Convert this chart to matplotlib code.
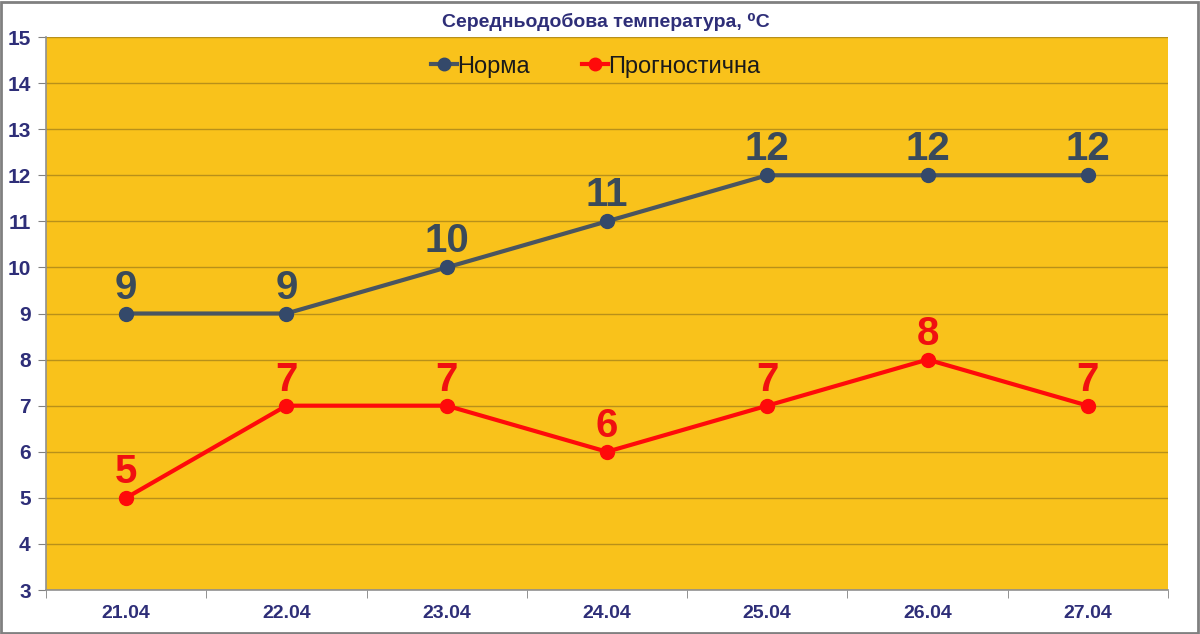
import matplotlib
matplotlib.use("Agg")
import matplotlib.pyplot as plt
from matplotlib.patches import Rectangle

plt.rcParams["font.family"] = ["Liberation Sans", "DejaVu Sans"]

# data
dates = ["21.04", "22.04", "23.04", "24.04", "25.04", "26.04", "27.04"]
norma = [9, 9, 10, 11, 12, 12, 12]
prognoz = [5, 7, 7, 6, 7, 8, 7]

title = "Середньодобова температура, \u2070C"
navy = "#2E2E78"
slate = "#3A4A5A"
red = "#FF0A0A"

fig = plt.figure(figsize=(12, 6.34), dpi=100)
fig.patch.set_facecolor("white")
ax = fig.add_axes([0.0383, 0.0694, 0.9350, 0.8722])
ax.set_facecolor("#F9C21B")

x = list(range(len(dates)))
ax.plot(x, norma, color="#4A5560", linewidth=3, marker="o", markersize=10,
        markerfacecolor="#34496A", markeredgecolor="#34496A", label="Норма", zorder=3)
ax.plot(x, prognoz, color=red, linewidth=3, marker="o", markersize=10,
        markerfacecolor=red, markeredgecolor=red, label="Прогностична", zorder=3)

for xi, v in zip(x, norma):
    ax.annotate(str(v), (xi, v), xytext=(0, 5), textcoords="offset points",
                ha="center", va="bottom", fontsize=29, fontweight="bold", color=slate)
for xi, v in zip(x, prognoz):
    ax.annotate(str(v), (xi, v), xytext=(0, 5), textcoords="offset points",
                ha="center", va="bottom", fontsize=29, fontweight="bold", color="#F01010")

ax.set_xlim(-0.5, len(dates) - 0.5)
ax.set_ylim(3, 15)
ax.set_yticks(range(3, 16))
ax.set_yticklabels([str(v) for v in range(3, 16)], fontsize=15, fontweight="bold", color=navy)
ax.set_xticks(x)
ax.set_xticklabels(dates, fontsize=14, fontweight="bold", color=navy)
ax.set_xticks([i - 0.5 for i in range(len(dates) + 1)], minor=True)
ax.tick_params(axis="x", which="major", length=0, pad=11)
ax.tick_params(axis="x", which="minor", length=6, color="#808080", direction="out")
ax.tick_params(axis="y", length=6, color="#808080", direction="out", pad=5)

ax.grid(True, axis="y", color="#B8901A", linewidth=1)
ax.set_axisbelow(True)
for s in ["top", "right"]:
    ax.spines[s].set_visible(False)
ax.spines["left"].set_color("#909090")
ax.spines["bottom"].set_color("#909090")
ax.spines["left"].set_linewidth(1.2)
ax.spines["bottom"].set_linewidth(1.2)

leg = ax.legend(loc="upper center", bbox_to_anchor=(0.49, 1.005), ncol=2, frameon=False,
                fontsize=17, handlelength=1.1, handletextpad=0.0, columnspacing=2.2,
                markerscale=0.9)
for t in leg.get_texts():
    t.set_color("#1A1A1A")

fig.text(0.505, 0.966, title, ha="center", va="center", fontsize=14,
         fontweight="bold", color=navy)

fig.add_artist(Rectangle((0.001, 0.002), 0.997, 0.995, transform=fig.transFigure,
                         fill=False, edgecolor="#808080", linewidth=2))

fig.savefig("out.png", dpi=100)
